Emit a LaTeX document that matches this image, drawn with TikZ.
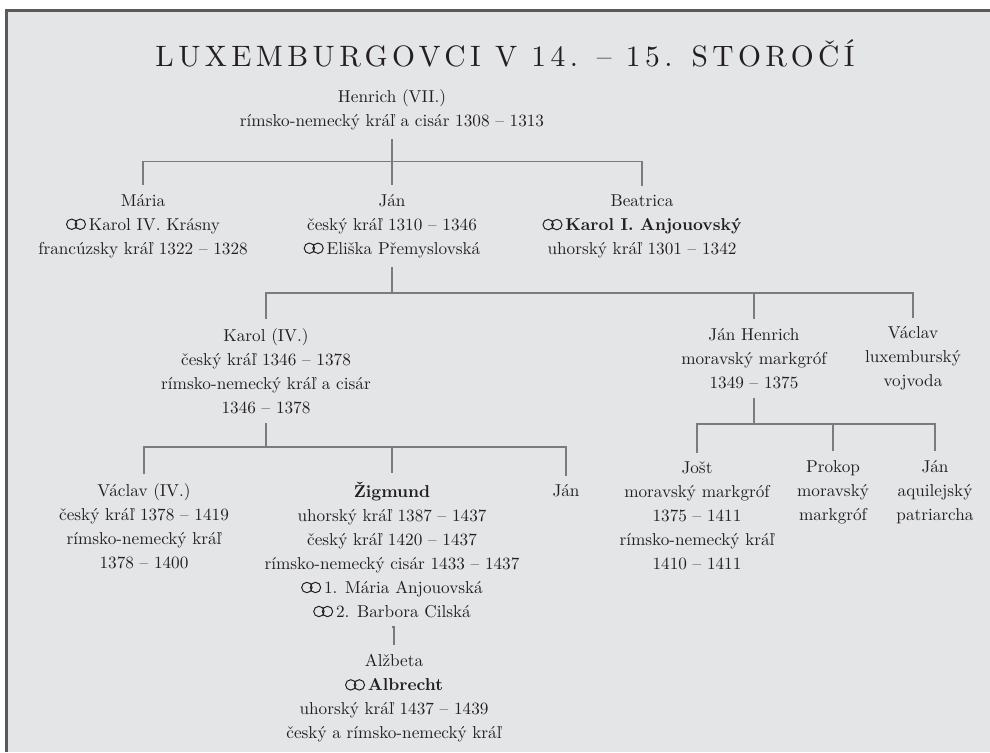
\documentclass[tikz,border=0pt]{standalone}
\usepackage{fontspec}
\setmainfont{lmroman10-regular.otf}[BoldFont=lmroman10-bold.otf, ItalicFont=lmroman10-italic.otf]
\newfontfamily\titlefont{lmroman10-regular.otf}[LetterSpace=15]
\usetikzlibrary{calc}
\definecolor{panel}{HTML}{E4E5E7}
\definecolor{frame}{HTML}{595959}
\definecolor{branch}{HTML}{7B7B7B}
\definecolor{ink}{HTML}{231F20}
\def\ring{\tikz[baseline={(0,-6pt)}]{\draw[ink, line width=1pt] (0,0) circle (5.2pt) (8.6pt,0) circle (5.2pt);}\,}
\tikzset{
	person/.style={align=center, text=ink, inner xsep=2pt, inner ysep=9pt, font=\fontsize{17.2}{24}\selectfont},
	branch/.style={draw=branch, line width=1.2pt},
}

\begin{document}
\begin{tikzpicture}[x=1pt, y=-1pt]
			%%%%% START %%%%%
			\useasboundingbox (0,0) rectangle (990,752);
			
			\fill[panel] (8,12) rectangle (990,752);
			\draw[frame, line width=3pt] (6.5,752) -- (6.5,10.5) -- (990,10.5);
			
			\node[text=ink, font=\titlefont\fontsize{29.5}{34}\selectfont] (title) at (505,53) {LUXEMBURGOVCI V 14. – 15. STOROČÍ};
			
			\node[person] (henrich) at (392,109.5) {Henrich (VII.)\\rímsko-nemecký kráľ a cisár 1308 -- 1313};
			
			\node[person] (maria) at (143,226) {Mária\\\ring Karol IV. Krásny\\francúzsky kráľ 1322 -- 1328};
			\node[person] (jan) at (392,226) {Ján\\český kráľ 1310 -- 1346\\\ring Eliška Přemyslovská};
			\node[person] (beatrica) at (642,226.5) {Beatrica\\\ring\textbf{Karol I. Anjouovský}\\uhorský kráľ 1301 -- 1342};
			
			\node[person] (karol) at (266,371) {Karol (IV.)\\český kráľ 1346 -- 1378\\rímsko-nemecký kráľ a cisár\\1346 -- 1378};
			\node[person] (janhenrich) at (754,358.5) {Ján Henrich\\moravský markgróf\\1349 -- 1375};
			\node[person] (vaclavlux) at (913,358.5) {Václav\\luxemburský\\vojvoda};
			
			\node[person] (vaclav) at (144,526) {Václav (IV.)\\český kráľ 1378 -- 1419\\rímsko-nemecký kráľ\\1378 -- 1400};
			\node[person] (zigmund) at (392,550) {\textbf{Žigmund}\\uhorský kráľ 1387 -- 1437\\český kráľ 1420 -- 1437\\rímsko-nemecký cisár 1433 -- 1437\\\ring 1. Mária Anjouovská\\\ring 2. Barbora Cilská};
			\node[person] (jansyn) at (566,491) {Ján};
			
			\node[person] (jost) at (697,516) {Jošt\\moravský markgróf\\1375 -- 1411\\rímsko-nemecký kráľ\\1410 -- 1411};
			\node[person] (prokop) at (833,492) {Prokop\\moravský\\markgróf};
			\node[person] (janpatr) at (935,492) {Ján\\aquilejský\\patriarcha};
			
			\node[person] (alzbeta) at (394,698.5) {Alžbeta\\\ring\textbf{Albrecht}\\uhorský kráľ 1437 -- 1439\\český a rímsko-nemecký kráľ};
			
			% branches
			\coordinate (b1) at (392,161.5);
			\draw[branch] (henrich.south) -- (henrich.south |- b1);
			\draw[branch] (maria.north) |- (b1) -| (beatrica.north);
			\draw[branch] (b1) -- (jan.north);
			
			\coordinate (b2) at (392,293);
			\draw[branch] (jan.south) -- (jan.south |- b2);
			\draw[branch] (karol.north) |- (b2) -| (vaclavlux.north);
			\draw[branch] (janhenrich.north) -- (janhenrich.north |- b2);
			
			\coordinate (b3) at (266,447);
			\draw[branch] (karol.south) -- (karol.south |- b3);
			\draw[branch] (vaclav.north) |- (b3) -| (jansyn.north);
			\draw[branch] (zigmund.north) -- (zigmund.north |- b3);
			
			\coordinate (b4) at (754,424);
			\draw[branch] (janhenrich.south) -- (janhenrich.south |- b4);
			\draw[branch] (jost.north) |- (b4) -| (janpatr.north);
			\draw[branch] (prokop.north) -- (prokop.north |- b4);
			
			\draw[branch] (zigmund.south) -- (zigmund.south -| alzbeta.north) -- (alzbeta.north);
			
			%%%%% END %%%%%
\end{tikzpicture}
\end{document}
